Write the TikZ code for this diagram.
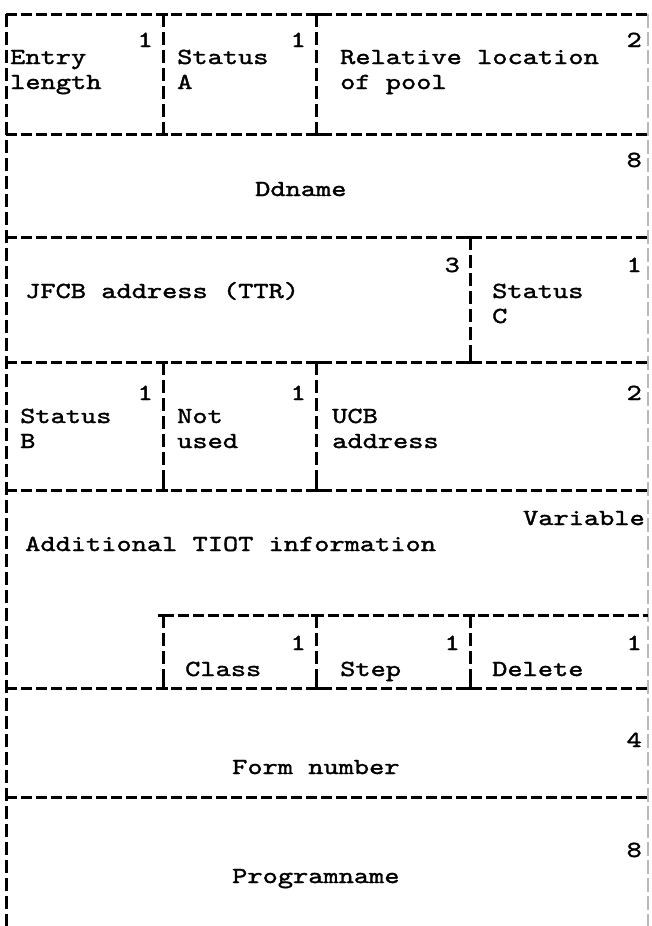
\documentclass[tikz,border=0pt]{standalone}
\usepackage{fontspec}
\newfontfamily\tw{lmmono10-regular.otf}[FakeBold=1.5,FakeStretch=1.26]
\begin{document}
\begin{tikzpicture}[x=1pt,y=-1pt,
  rule/.style={line width=3pt,dash pattern=on 11pt off 4pt},
  vrule/.style={line width=3pt,dash pattern=on 13pt off 5pt},
  faint/.style={line width=1.2pt,gray!55,dash pattern=on 14pt off 4pt},
  tick/.style={line width=3pt},
  txt/.style={inner sep=0pt,text height=14pt,text depth=4pt,font=\tw\fontsize{23}{23}\selectfont},
  lbl/.style={txt,anchor=base west},
  num/.style={txt,anchor=base east}]
\useasboundingbox (0,0) rectangle (651,926);
% outer verticals
\draw[vrule] (6,14) -- (6,926);
\draw[faint] (648,14) -- (648,926);
% horizontal rules
\foreach \y in {14,134,237,362,490,688,797}
  \draw[rule] (6,\y) -- (648,\y);
\draw[rule] (163,615) -- (648,615);
% vertical dividers
\foreach \x/\a/\b in {163/14/134,316/14/134,470/237/362,163/362/490,316/362/490,163/615/688,316/615/688,470/615/688}{
  \draw[vrule] (\x,\a) -- (\x,\b);
  \draw[tick] (\x-5,\a) -- (\x+5,\a);
  \draw[tick] (\x,\a) -- (\x,\a+7);
  \draw[tick] (\x-5,\b) -- (\x+5,\b);
  \draw[tick] (\x,\b) -- (\x,\b-7);
}
% left corner / junction ticks
\draw[tick] (6,14) -- (13,14);
\foreach \y in {134,237,362,490,688,797}
  \draw[tick] (6,\y) -- (12,\y);
\draw[tick] (163,615) -- (163,622);
% row 1
\node[num] (n11) at (153,47) {1};
\node[num] (n12) at (306,47) {1};
\node[num] (n13) at (642,47) {2};
\node[lbl] (entry) at (10,64) {Entry};
\node[lbl] (length) at (10,89) {length};
\node[lbl] (statA1) at (177,64) {Status};
\node[lbl] (statA2) at (177,89) {A};
\node[lbl] (rel1) at (340,64) {Relative location};
\node[lbl] (rel2) at (340,89) {of pool};
% row 2
\node[num] (n21) at (642,167) {8};
\node[lbl] (dd) at (255,196) {Ddname};
% row 3
\node[num] (n31) at (460,272) {3};
\node[num] (n32) at (642,272) {1};
\node[lbl] (jfcb) at (25,298) {JFCB address (TTR)};
\node[lbl] (statC1) at (492,298) {Status};
\node[lbl] (statC2) at (492,323) {C};
% row 4
\node[num] (n41) at (153,400) {1};
\node[num] (n42) at (306,400) {1};
\node[num] (n43) at (642,400) {2};
\node[lbl] (statB1) at (20,423) {Status};
\node[lbl] (statB2) at (20,448) {B};
\node[lbl] (not1) at (177,423) {Not};
\node[lbl] (not2) at (177,448) {used};
\node[lbl] (ucb1) at (332,423) {UCB};
\node[lbl] (ucb2) at (332,448) {address};
% row 5
\node[num] (var) at (645,525) {Variable};
\node[lbl] (add) at (25,551) {Additional TIOT information};
\node[num] (n51) at (306,650) {1};
\node[num] (n52) at (460,650) {1};
\node[num] (n53) at (642,650) {1};
\node[lbl] (cls) at (185,676) {Class};
\node[lbl] (stp) at (340,676) {Step};
\node[lbl] (del) at (492,676) {Delete};
% row 6
\node[num] (n61) at (642,747) {4};
\node[lbl] (form) at (232,774) {Form number};
% row 7
\node[num] (n71) at (642,857) {8};
\node[lbl] (prog) at (232,883) {Programname};
\end{tikzpicture}
\end{document}
